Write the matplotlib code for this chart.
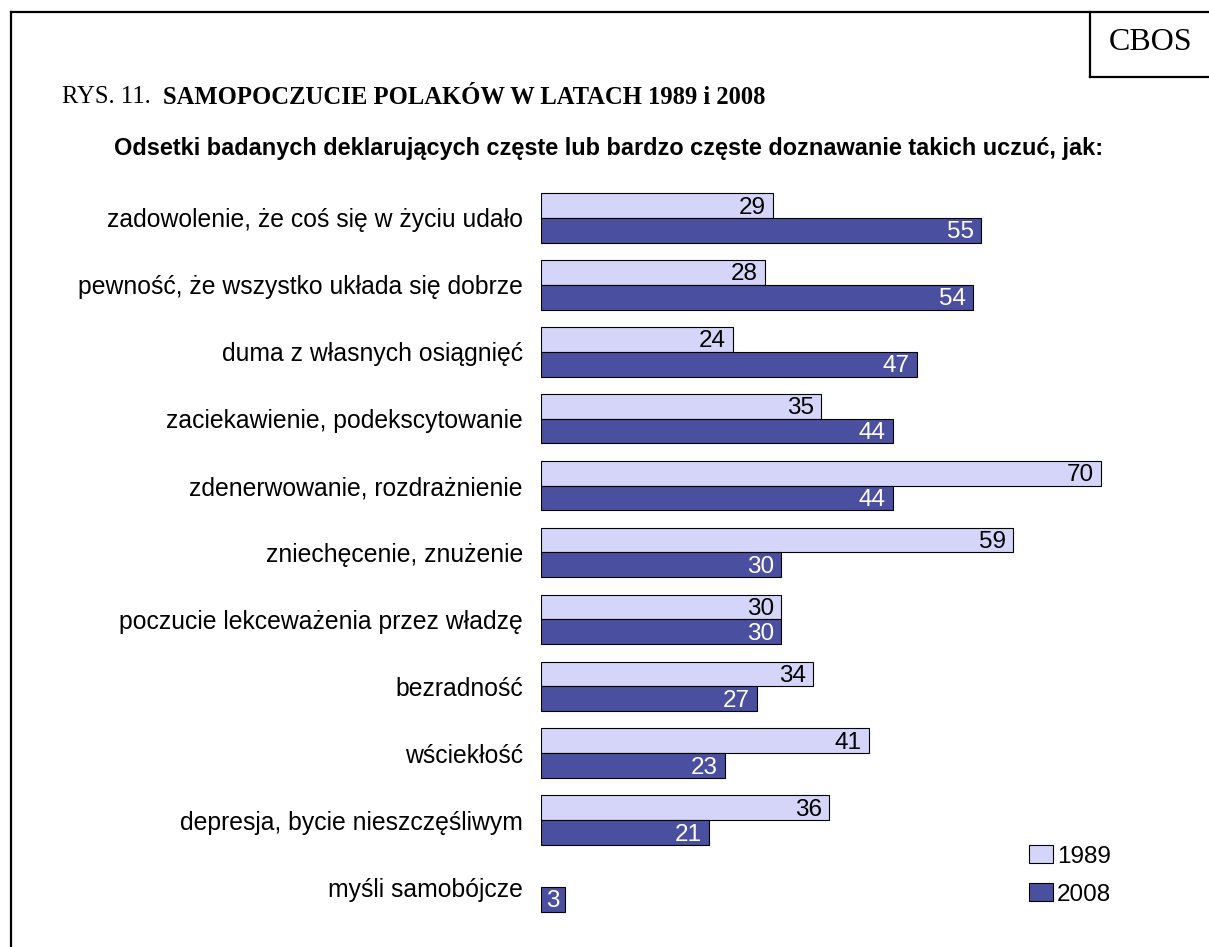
import numpy as np
import matplotlib
matplotlib.use('Agg')
import matplotlib.pyplot as plt
from matplotlib.lines import Line2D
from matplotlib.patches import Patch

categories = ['zadowolenie, że coś się w życiu udało',
              'pewność, że wszystko układa się dobrze',
              'duma z własnych osiągnięć',
              'zaciekawienie, podekscytowanie',
              'zdenerwowanie, rozdrażnienie',
              'zniechęcenie, znużenie',
              'poczucie lekceważenia przez władzę',
              'bezradność',
              'wściekłość',
              'depresja, bycie nieszczęśliwym',
              'myśli samobójcze']
vals_1989 = [29, 28, 24, 35, 70, 59, 30, 34, 41, 36, None]
vals_2008 = [55, 54, 47, 44, 44, 30, 30, 27, 23, 21, 3]
series = ['1989', '2008']

col_1989 = '#D5D5FA'
col_2008 = '#4A4F9F'

W, H = 1209, 947
fig = plt.figure(figsize=(W / 100, H / 100), dpi=100)
plt.rcParams['font.family'] = ['Liberation Sans', 'DejaVu Sans']

# axes placed in pixel terms
top_px, bot_px = 184.5, 920.5
ax = fig.add_axes([541 / W, 1 - bot_px / H, 640 / W, (bot_px - top_px) / H])

y = np.arange(len(categories))
h = 0.37
for i in y:
    v = vals_1989[i]
    if v is not None:
        ax.barh(i - h / 2, v, height=h, color=col_1989, edgecolor='black', linewidth=0.8)
        ax.text(v - 0.9, i - h / 2 + 0.03, str(v), ha='right', va='center',
                fontsize=17.5, color='black')
    v = vals_2008[i]
    ax.barh(i + h / 2, v, height=h, color=col_2008, edgecolor='black', linewidth=0.8)
    ax.text(v - 0.9 if v > 5 else v / 2, i + h / 2 + 0.03, str(v),
            ha='right' if v > 5 else 'center', va='center', fontsize=17.5, color='white')

ax.set_xlim(0, 80)
ax.set_ylim(len(categories) - 0.5, -0.5)
ax.set_yticks(y, categories, fontsize=17.8)
ax.tick_params(axis='y', length=0, pad=13)
ax.set_xticks([])
for s in ax.spines.values():
    s.set_visible(False)

handles = [Patch(facecolor=col_1989, edgecolor='black', linewidth=0.8),
           Patch(facecolor=col_2008, edgecolor='black', linewidth=0.8)]
fig.legend(handles, series, loc='upper left', bbox_to_anchor=(1017 / W, 1 - 833 / H),
           frameon=False, fontsize=17.5, handlelength=1.0, handleheight=0.75,
           handletextpad=0.15, labelspacing=0.65, borderpad=0)

# frame and CBOS box
lw = 1.6
fig.add_artist(Line2D([11 / W, 11 / W], [0, 1 - 12 / H], color='black', lw=lw))
fig.add_artist(Line2D([11 / W, 1], [1 - 12 / H, 1 - 12 / H], color='black', lw=lw))
fig.add_artist(Line2D([1090 / W, 1090 / W], [1 - 12 / H, 1 - 77 / H], color='black', lw=lw))
fig.add_artist(Line2D([1090 / W, 1], [1 - 77 / H, 1 - 77 / H], color='black', lw=lw))
fig.text(1151 / W, 1 - 42 / H, 'CBOS', ha='center', va='center', fontsize=23,
         family='Liberation Serif')

# titles
t1 = fig.text(62 / W, 1 - 97 / H, 'RYS. 11.  ', ha='left', va='center', fontsize=17.7,
              family='Liberation Serif')
fig.canvas.draw()
bb = t1.get_window_extent()
fig.text(bb.x1 / W, 1 - 97 / H, 'SAMOPOCZUCIE POLAKÓW W LATACH 1989 i 2008', ha='left',
         va='center', fontsize=17.7, family='Liberation Serif', fontweight='bold')
fig.text(609 / W, 1 - 148 / H,
         'Odsetki badanych deklarujących częste lub bardzo częste doznawanie takich uczuć, jak:',
         ha='center', va='center', fontsize=16.9, fontweight='bold')

fig.savefig('out.png', dpi=100)
